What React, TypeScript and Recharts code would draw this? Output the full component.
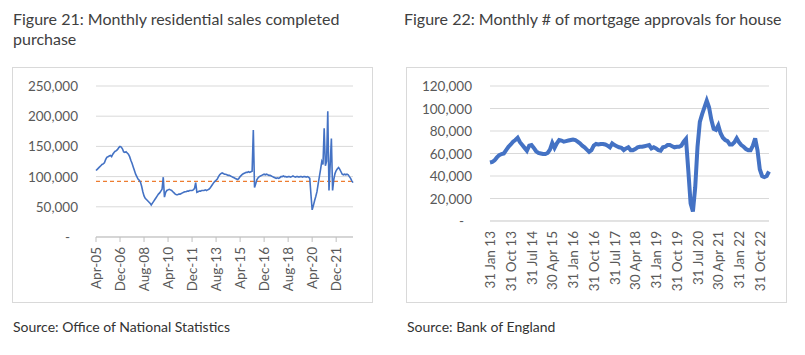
import React from 'react';
import { LineChart, Line, XAxis, YAxis, CartesianGrid, ReferenceLine } from 'recharts';

const FONT = 'Lato, "Open Sans", sans-serif';
const BLUE = '#4472C4';
const ORANGE = '#ED7D31';
const GRID = '#D9D9D9';
const AXIS_TEXT = '#595959';

const MONTHS = ['Jan', 'Feb', 'Mar', 'Apr', 'May', 'Jun', 'Jul', 'Aug', 'Sep', 'Oct', 'Nov', 'Dec'];

// Figure 21 – residential sales completed (monthly, Apr-05 onwards), thousands
const salesValues = [
  110, 112, 114, 116, 118, 120, 121, 123, 128,
  132, 133, 134, 135, 133, 137, 140, 142, 143, 145, 148, 150,
  149, 146, 141, 140, 141, 139, 137, 133, 127, 122, 116, 110,
  104, 100, 96, 94, 91, 84, 75, 68, 64, 62, 60, 58,
  56, 53, 56, 59, 62, 65, 68, 71, 73, 76, 79, 99,
  66, 74, 77, 78, 79, 78, 77, 75, 73, 71, 70, 70,
  71, 71, 72, 73, 74, 75, 75, 76, 76, 77, 77, 77,
  78, 80, 90, 74, 75, 76, 76, 77, 77, 77, 78, 77,
  78, 79, 81, 84, 87, 90, 92, 94, 96, 100, 103, 105,
  106, 105, 104, 104, 103, 102, 102, 101, 100, 99, 98, 97,
  96, 95, 97, 100, 102, 104, 105, 106, 107, 107, 108, 107,
  108, 109, 177, 82, 88, 95, 98, 100, 101, 102, 103, 104,
  103, 104, 103, 102, 102, 101, 100, 99, 98, 97, 98, 97,
  98, 100, 100, 101, 100, 100, 99, 100, 100, 99, 100, 101,
  100, 99, 100, 100, 99, 100, 100, 99, 100, 100, 99, 100,
  99, 97, 70, 45, 52, 60, 67, 75, 88, 100, 112, 125,
  120, 180, 118, 125, 208, 77, 120, 163, 77, 95, 105, 110,
  113, 115, 112, 108, 104, 103, 104, 103, 104, 103, 100, 97,
  93, 90,
];
const salesAverage = 92000;
const salesTicks = [0, 50000, 100000, 150000, 200000, 250000];

// Figure 22 – mortgage approvals for house purchase (monthly, Jan-13 onwards), thousands
const approvalValues = [
  52, 52.5, 54, 56.5, 58.5, 59.5, 60, 63, 66, 68, 70.5, 72,
  74, 70, 67.5, 65, 62.5, 67, 67.5, 65, 62, 60.5, 60, 59.5,
  59.5, 60.5, 63.5, 69.5, 65, 69, 72, 71.5, 70.5, 71, 71.5, 72,
  72.5, 72, 70.5, 69, 67, 65.5, 63.5, 61.5, 63, 67, 68.5, 68,
  68.5, 68.5, 68, 67, 65.5, 69, 67.5, 66.5, 65.5, 65, 63, 64.5,
  65.5, 63, 63, 64, 65.5, 66, 66, 66.5, 67, 67.5, 64.5, 65.5,
  64.5, 63, 62.5, 65.5, 66, 67.5, 67.5, 66.5, 65.5, 66, 66, 67,
  70.5, 73, 45, 15.7, 8.5, 30, 66, 88, 95, 101, 107, 101,
  90, 82, 81, 85, 78, 74, 72, 71, 68, 68, 70, 73.5,
  70, 67.5, 66, 64, 63, 63, 67, 73.5, 63, 46, 40, 39,
  40, 44,
];
const approvalTicks = [0, 20000, 40000, 60000, 80000, 100000, 120000];

const salesData = salesValues.map((v, i) => {
  const m = (3 + i) % 12;
  const y = 2005 + Math.floor((3 + i) / 12);
  return { month: `${MONTHS[m]}-${String(y % 100).padStart(2, '0')}`, sales: v * 1000 };
});

const approvalData = approvalValues.map((v, i) => {
  const m = i % 12;
  const y = 2013 + Math.floor(i / 12);
  const day = new Date(y, m + 1, 0).getDate();
  return { date: `${day} ${MONTHS[m]} ${String(y % 100).padStart(2, '0')}`, approvals: v * 1000 };
});

function YTick({ x, y, payload }: any) {
  const zero = payload.value === 0;
  return (
    <text x={zero ? x - 8 : x} y={y} textAnchor="end" dominantBaseline="central" fill={AXIS_TEXT} fontSize={13.5} fontFamily={FONT}>
      {zero ? '-' : payload.value.toLocaleString('en-GB')}
    </text>
  );
}

function XTick({ x, y, payload }: any) {
  return (
    <text x={x} y={y} transform={`rotate(-90, ${x}, ${y})`} textAnchor="end" dominantBaseline="central" fill={AXIS_TEXT} fontSize={13.5} fontFamily={FONT}>
      {payload.value}
    </text>
  );
}

const boxStyle: React.CSSProperties = {
  position: 'absolute',
  top: 67,
  height: 234,
  border: `1px solid ${GRID}`,
  background: '#fff',
};

const titleStyle: React.CSSProperties = {
  position: 'absolute',
  top: 9,
  fontFamily: FONT,
  fontSize: 16,
  lineHeight: '20px',
  color: '#404040',
};

const sourceStyle: React.CSSProperties = {
  position: 'absolute',
  top: 318,
  fontFamily: FONT,
  fontSize: 14,
  color: '#333',
};

export default function App() {
  return (
    <div style={{ position: 'fixed', left: 0, top: 0, width: 805, height: 355, background: '#fff', overflow: 'hidden' }}>
      <div style={{ ...titleStyle, left: 13, width: 360 }}>Figure 21: Monthly residential sales completed purchase</div>
      <div style={{ ...titleStyle, left: 404, width: 400 }}>Figure 22: Monthly # of mortgage approvals for house</div>

      <div style={{ ...boxStyle, left: 12, width: 359 }}>
        <LineChart width={359} height={234} data={salesData} margin={{ top: 18, right: 19, bottom: 0, left: 0 }}>
          <CartesianGrid vertical={false} stroke={GRID} />
          <XAxis
            dataKey="month"
            interval={19}
            height={65}
            stroke="#BFBFBF"
            tickSize={5}
            tickMargin={5}
            tick={<XTick />}
          />
          <YAxis
            domain={[0, 250000]}
            ticks={salesTicks}
            interval={0}
            width={83}
            axisLine={false}
            tickLine={false}
            tickSize={0}
            tickMargin={18}
            tick={<YTick />}
          />
          <ReferenceLine y={salesAverage} stroke={ORANGE} strokeDasharray="4 3" strokeWidth={1.2} ifOverflow="extendDomain" />
          <Line type="linear" dataKey="sales" stroke={BLUE} strokeWidth={1.6} dot={false} isAnimationActive={false} />
        </LineChart>
      </div>

      <div style={{ ...boxStyle, left: 406, width: 379 }}>
        <LineChart width={379} height={234} data={approvalData} margin={{ top: 18, right: 17, bottom: 0, left: 0 }}>
          <CartesianGrid vertical={false} stroke={GRID} />
          <XAxis
            dataKey="date"
            interval={8}
            height={81}
            stroke={GRID}
            tickLine={false}
            tickSize={0}
            tickMargin={10}
            tick={<XTick />}
          />
          <YAxis
            domain={[0, 120000]}
            ticks={approvalTicks}
            interval={0}
            width={83}
            axisLine={false}
            tickLine={false}
            tickSize={0}
            tickMargin={18}
            tick={<YTick />}
          />
          <Line type="linear" dataKey="approvals" stroke={BLUE} strokeWidth={4} dot={false} isAnimationActive={false} />
        </LineChart>
      </div>

      <div style={{ ...sourceStyle, left: 13 }}>Source: Office of National Statistics</div>
      <div style={{ ...sourceStyle, left: 407 }}>Source: Bank of England</div>
    </div>
  );
}
